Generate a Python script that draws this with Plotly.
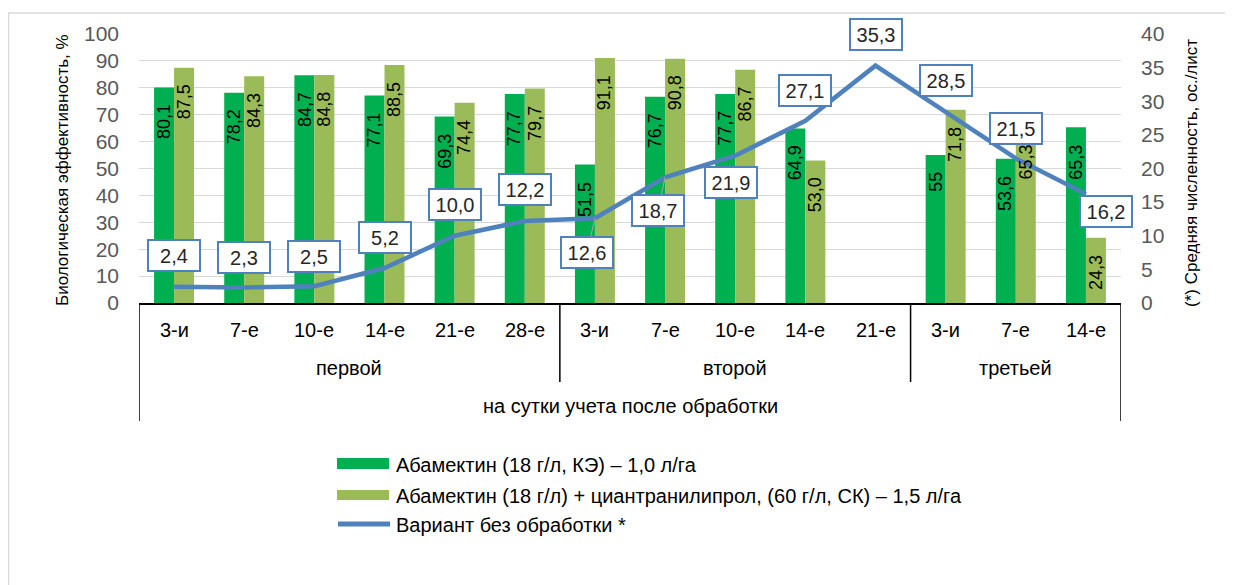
import plotly.graph_objects as go

# ---------------- data ----------------
days = ["3-и", "7-е", "10-е", "14-е", "21-е", "28-е",
        "3-и", "7-е", "10-е", "14-е", "21-е",
        "3-и", "7-е", "14-е"]
groups = ["первой", "второй", "третьей"]
group_sizes = [6, 5, 3]
bottom_title = "на сутки учета после обработки"

abam = [80.1, 78.2, 84.7, 77.1, 69.3, 77.7, 51.5, 76.7, 77.7, 64.9, None, 55, 53.6, 65.3]
abam_labels = ["80,1", "78,2", "84,7", "77,1", "69,3", "77,7", "51,5", "76,7", "77,7", "64,9", "", "55", "53,6", "65,3"]

combo = [87.5, 84.3, 84.8, 88.5, 74.4, 79.7, 91.1, 90.8, 86.7, 53.0, None, 71.8, 65.3, 24.3]
combo_labels = ["87,5", "84,3", "84,8", "88,5", "74,4", "79,7", "91,1", "90,8", "86,7", "53,0", "", "71,8", "65,3", "24,3"]

control = [2.4, 2.3, 2.5, 5.2, 10.0, 12.2, 12.6, 18.7, 21.9, 27.1, 35.3, 28.5, 21.5, 16.2]
control_labels = ["2,4", "2,3", "2,5", "5,2", "10,0", "12,2", "12,6", "18,7", "21,9", "27,1", "35,3", "28,5", "21,5", "16,2"]

series_names = ["Абамектин (18 г/л, КЭ) – 1,0 л/га",
                "Абамектин (18 г/л) + циантранилипрол, (60 г/л, СК) – 1,5 л/га",
                "Вариант без обработки *"]
y1_title = "Биологическая эффективность, %"
y2_title = "(*) Средняя численность, ос./лист"

# ---------------- styles / layout geometry ----------------
# page body has an 8px margin, so the figure is drawn 8px right/down
W, H = 1225, 577
L, R, T, B = 131, 112, 26, 282
PW, PH = W - L - R, H - T - B
FONT = "'Liberation Sans', Arial, sans-serif"
C_GREEN = "#00B050"
C_LIGHT = "#9BBB59"
C_BLUE = "#4F81BD"
C_GRID = "#D9D9D9"
C_TICK = "#595959"

# helpers taking screen-pixel positions of the reference
def xp(px):
    return (px - 139) / PW

def yp(py):
    return (303 - py) / PH

label_offsets = [(0, -31), (0, -30), (0, -30), (0, -31), (0, -31), (0, -31),
                 (-8, 34), (-7, 33), (-4, 27), (0, -30), (0, -31), (0, -31),
                 (0, -30), (20, 17)]
leader = [False] * 6 + [True, True] + [False] * 6

x = list(range(len(days)))
half = 0.57 / 4  # half a bar width in category units

fig = go.Figure()
fig.add_trace(go.Bar(x=x, y=abam, marker=dict(color=C_GREEN, line=dict(width=0)),
                     name=series_names[0], showlegend=False, hoverinfo="skip"))
fig.add_trace(go.Bar(x=x, y=combo, marker=dict(color=C_LIGHT, line=dict(width=0)),
                     name=series_names[1], showlegend=False, hoverinfo="skip"))
fig.add_trace(go.Scatter(x=x, y=control, yaxis="y2", mode="lines",
                         line=dict(color=C_BLUE, width=4.5),
                         name=series_names[2], showlegend=False, hoverinfo="skip"))

annotations = []
shapes = []

# bar data labels
for vals, labs, dx in ((abam, abam_labels, -half), (combo, combo_labels, half)):
    for i, (v, t) in enumerate(zip(vals, labs)):
        if v is None:
            continue
        annotations.append(dict(x=i + dx, y=v, xref="x", yref="y", text=t, textangle=-90,
                                xanchor="center", yanchor="top", yshift=-15, showarrow=False,
                                font=dict(family=FONT, size=18, color="black")))

# line labels
for i, (v, t) in enumerate(zip(control, control_labels)):
    ax, ay = label_offsets[i]
    annotations.append(dict(x=i, y=v, xref="x", yref="y2", text=t, showarrow=True,
                            ax=ax, ay=ay, arrowhead=0, arrowwidth=1, standoff=0,
                            arrowcolor="#A6A6A6" if leader[i] else "rgba(0,0,0,0)",
                            bordercolor=C_BLUE, borderwidth=2, borderpad=2,
                            bgcolor="white", width=46, height=25,
                            font=dict(family=FONT, size=20, color="#262626")))

# category labels (level 1)
for i, d in enumerate(days):
    annotations.append(dict(x=i, y=yp(330), xref="x", yref="paper", text=d, showarrow=False,
                            xanchor="center", yanchor="middle",
                            font=dict(family=FONT, size=20, color="black")))

# group labels (level 2) and separators
start = 0
for g, n in zip(groups, group_sizes):
    annotations.append(dict(x=start + (n - 1) / 2, y=yp(368), xref="x", yref="paper", text=g,
                            showarrow=False, xanchor="center", yanchor="middle",
                            font=dict(family=FONT, size=20, color="black")))
    if start > 0:
        shapes.append(dict(type="line", xref="x", yref="paper", x0=start - 0.5, x1=start - 0.5,
                           y0=0, y1=yp(382), line=dict(color="black", width=1.5)))
    start += n

# level 3
annotations.append(dict(x=(len(days) - 1) / 2, y=yp(406), xref="x", yref="paper", text=bottom_title,
                        showarrow=False, xanchor="center", yanchor="middle",
                        font=dict(family=FONT, size=20, color="black")))
for xe in (-0.5, len(days) - 0.5):
    shapes.append(dict(type="line", xref="x", yref="paper", x0=xe, x1=xe, y0=0, y1=yp(421),
                       line=dict(color="black", width=1.5)))

# axis titles
annotations.append(dict(x=xp(62), y=yp(170), xref="paper", yref="paper", text=y1_title,
                        textangle=-90, showarrow=False, xanchor="center", yanchor="middle",
                        font=dict(family=FONT, size=17, color="black")))
annotations.append(dict(x=xp(1191), y=yp(173), xref="paper", yref="paper", text=y2_title,
                        textangle=-90, showarrow=False, xanchor="center", yanchor="middle",
                        font=dict(family=FONT, size=17, color="black")))

# custom legend
shapes.append(dict(type="rect", xref="paper", yref="paper", x0=xp(337), x1=xp(389),
                   y0=yp(469), y1=yp(458), fillcolor=C_GREEN, line=dict(width=0)))
shapes.append(dict(type="rect", xref="paper", yref="paper", x0=xp(337), x1=xp(389),
                   y0=yp(500), y1=yp(490), fillcolor=C_LIGHT, line=dict(width=0)))
shapes.append(dict(type="line", xref="paper", yref="paper", x0=xp(338), x1=xp(390),
                   y0=yp(524), y1=yp(524), line=dict(color=C_BLUE, width=5)))
for name, py in zip(series_names, (465, 496, 525)):
    annotations.append(dict(x=xp(394), y=yp(py), xref="paper", yref="paper", text=name,
                            showarrow=False, xanchor="left", yanchor="middle",
                            font=dict(family=FONT, size=20, color="black")))

# chart border
shapes.append(dict(type="rect", xref="paper", yref="paper", x0=xp(8.5), x1=xp(1300),
                   y0=yp(620), y1=yp(13), line=dict(color=C_GRID, width=1.5),
                   fillcolor="rgba(0,0,0,0)", layer="below"))

fig.update_layout(
    width=W, height=H,
    margin=dict(l=L, r=R, t=T, b=B, pad=0),
    paper_bgcolor="white", plot_bgcolor="white",
    barmode="group", bargap=0.43, bargroupgap=0,
    showlegend=False,
    font=dict(family=FONT, color="black"),
    xaxis=dict(range=[-0.5, len(days) - 0.5], showticklabels=False, showgrid=False,
               zeroline=False, showline=True, linecolor="black", linewidth=1.5,
               ticks="", fixedrange=True),
    yaxis=dict(range=[0, 100], dtick=10, showgrid=True, gridcolor=C_GRID, gridwidth=1.3,
               zeroline=False, showline=False, ticks="", ticklabelstandoff=19,
               tickfont=dict(family=FONT, size=21, color=C_TICK), fixedrange=True),
    yaxis2=dict(range=[0, 40], dtick=5, overlaying="y", side="right", showgrid=False,
                zeroline=False, showline=False, ticks="", ticklabelstandoff=19,
                tickfont=dict(family=FONT, size=21, color=C_TICK), fixedrange=True),
    annotations=annotations,
    shapes=shapes,
)

fig.write_html("out.html")
